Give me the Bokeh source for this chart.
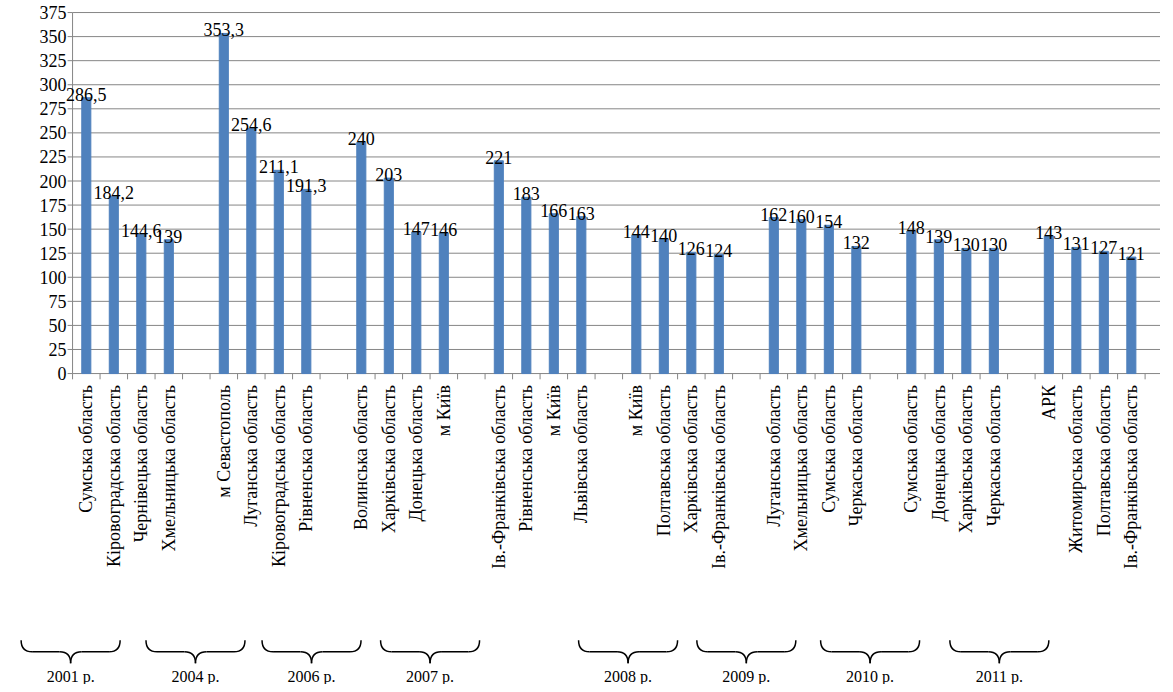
from bokeh.plotting import figure
from bokeh.models import ColumnDataSource
from bokeh.core.properties import value
from bokeh.embed import file_html
from bokeh.resources import INLINE

years = ["2001 р.", "2004 р.", "2006 р.", "2007 р.", "2008 р.", "2009 р.", "2010 р.", "2011 р."]
regions = [
    ["Сумська область", "Кіровоградська область", "Чернівецька область", "Хмельницька область"],
    ["м Севастополь", "Луганська область", "Кіровоградська область", "Рівненська область"],
    ["Волинська область", "Харківська область", "Донецька область", "м Київ"],
    ["Ів.-Франківська область", "Рівненська область", "м Київ", "Львівська область"],
    ["м Київ", "Полтавська область", "Харківська область", "Ів.-Франківська область"],
    ["Луганська область", "Хмельницька область", "Сумська область", "Черкаська область"],
    ["Сумська область", "Донецька область", "Харківська область", "Черкаська область"],
    ["АРК", "Житомирська область", "Полтавська область", "Ів.-Франківська область"],
]
values = [
    [286.5, 184.2, 144.6, 139],
    [353.3, 254.6, 211.1, 191.3],
    [240, 203, 147, 146],
    [221, 183, 166, 163],
    [144, 140, 126, 124],
    [162, 160, 154, 132],
    [148, 139, 130, 130],
    [143, 131, 127, 121],
]
y_ticks = list(range(0, 376, 25))
brace_centers = [-0.07, 4.47, 8.69, 13.0, 20.2, 24.5, 29.0, 33.7]

FONT = value("Liberation Serif")
GRID = "#868686"

xs, ys, labs, names = [], [], [], []
for g, (rg, vs) in enumerate(zip(regions, values)):
    for i, (r, v) in enumerate(zip(rg, vs)):
        xs.append(g * 5 + i + 0.5)
        ys.append(v)
        labs.append(("%g" % v).replace(".", ","))
        names.append(r)
src = ColumnDataSource(data=dict(x=xs, y=ys, lab=labs, name=names))

p = figure(width=1160, height=684, x_range=(-2.62, 39.56), y_range=(-323, 387.5),
           output_backend="svg", toolbar_location=None,
           min_border_left=0, min_border_right=0, min_border_top=0, min_border_bottom=0)
p.outline_line_color = None
p.axis.visible = False
p.grid.visible = False

# value axis drawn by hand
p.segment(x0=[0] * len(y_ticks), y0=y_ticks, x1=[40] * len(y_ticks), y1=y_ticks, line_color=GRID)
p.segment(x0=[0], y0=[0], x1=[0], y1=[375], line_color=GRID)
p.segment(x0=[-0.18] * len(y_ticks), y0=y_ticks, x1=[0] * len(y_ticks), y1=y_ticks, line_color=GRID)
p.text(x=[-0.22] * len(y_ticks), y=y_ticks, text=[str(t) for t in y_ticks], text_align="right",
       text_baseline="middle", text_font=FONT, text_font_size="18px")

p.vbar(x="x", top="y", width=0.33, color="#4F81BD", source=src)
p.text(x="x", y="y", text="lab", source=src, text_align="center", text_baseline="bottom",
       text_font=FONT, text_font_size="18px", y_offset=3)

# category axis line and ticks
tx = list(range(0, 41))
p.segment(x0=tx, y0=[0] * len(tx), x1=tx, y1=[-6] * len(tx), line_color=GRID)
p.text(x="x", y=-12, text="name", source=src, angle=1.5708, text_align="right",
       text_baseline="middle", text_font=FONT, text_font_size="18px")

# braces
top, mid, tip, hw, d = -277, -289, -301, 1.8, 0.4
for c, yr in zip(brace_centers, years):
    for s in (-1, 1):
        x0 = c + s * hw
        p.quadratic(x0=[x0], y0=[top], cx=[x0], cy=[mid], x1=[x0 - s * d], y1=[mid], line_color="black", line_width=1.5)
        p.segment(x0=[x0 - s * d], y0=[mid], x1=[c + s * d], y1=[mid], line_color="black", line_width=1.5)
        p.quadratic(x0=[c + s * d], y0=[mid], cx=[c], cy=[mid], x1=[c], y1=[tip], line_color="black", line_width=1.5)
    p.text(x=[c], y=[-306], text=[yr], text_align="center", text_baseline="top",
           text_font=FONT, text_font_size="16px")

open("out.html", "w").write(file_html(p, INLINE))
